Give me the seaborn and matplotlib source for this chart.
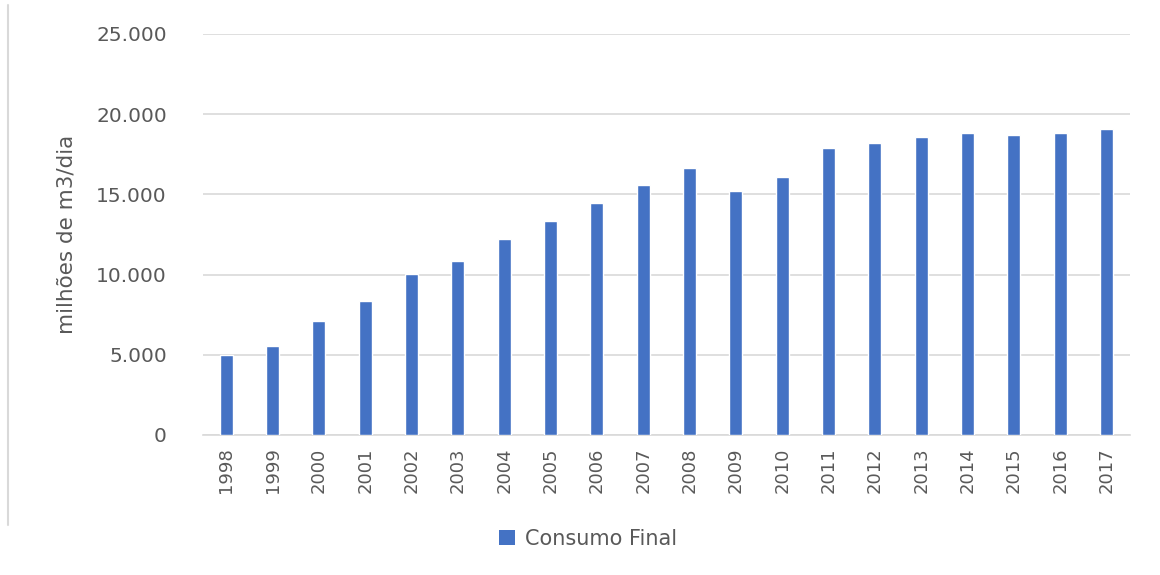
import matplotlib
matplotlib.use("Agg")
import matplotlib.pyplot as plt
from matplotlib.lines import Line2D
from matplotlib.patches import Patch
from matplotlib.ticker import FuncFormatter
import pandas as pd
import seaborn as sns

# Consumo final de gás natural (milhões de m3/dia)
anos = ["1998", "1999", "2000", "2001", "2002", "2003", "2004", "2005", "2006", "2007",
        "2008", "2009", "2010", "2011", "2012", "2013", "2014", "2015", "2016", "2017"]
consumo_final = [5000, 5560, 7120, 8330, 10020, 10870, 12190, 13330, 14440, 15560,
                 16670, 15200, 16080, 17880, 18230, 18580, 18850, 18730, 18850, 19080]
serie = "Consumo Final"
y_ticks = [0, 5000, 10000, 15000, 20000, 25000]

df = pd.DataFrame({"ano": anos, "valor": consumo_final})

sns.set_theme(style="white")
plt.rcParams["font.family"] = ["DejaVu Sans"]

cor_barra = "#4472C4"
cor_texto = "#595959"
cor_grade = "#D9D9D9"

fig = plt.figure(figsize=(11.6, 5.75), dpi=100)
ax = fig.add_axes([0.175, 0.2435, 0.799, 0.6975])

sns.barplot(data=df, x="ano", y="valor", color=cor_barra, width=0.28,
            saturation=1, ax=ax, zorder=3)

ax.set_ylim(0, 25000)
ax.set_yticks(y_ticks)
ax.yaxis.set_major_formatter(FuncFormatter(lambda v, p: f"{int(v):,}".replace(",", ".")))
ax.grid(axis="y", color=cor_grade, linewidth=1.2, zorder=0)
for s in ["top", "right", "left"]:
    ax.spines[s].set_visible(False)
ax.spines["bottom"].set_color(cor_grade)
ax.spines["bottom"].set_linewidth(1.2)

ax.tick_params(axis="y", length=0, pad=26, labelsize=14.5, labelcolor=cor_texto)
ax.tick_params(axis="x", length=0, pad=9, labelsize=13, labelcolor=cor_texto,
               labelrotation=90)
ax.set_xlabel("")
ax.set_ylabel("milhões de m3/dia", fontsize=15.5, color=cor_texto, labelpad=14)

fig.legend(handles=[Patch(facecolor=cor_barra, edgecolor="none", label=serie)],
           loc="center", bbox_to_anchor=(0.507, 0.063), frameon=False,
           fontsize=15, handlelength=0.75, handleheight=0.75, handletextpad=0.5,
           labelcolor=cor_texto)

# moldura lateral
fig.add_artist(Line2D([8 / 1160, 8 / 1160], [1 - 5 / 575, 1 - 525 / 575],
                      transform=fig.transFigure, color=cor_grade, linewidth=1.5))

fig.savefig("out.png", dpi=100, facecolor="white")
